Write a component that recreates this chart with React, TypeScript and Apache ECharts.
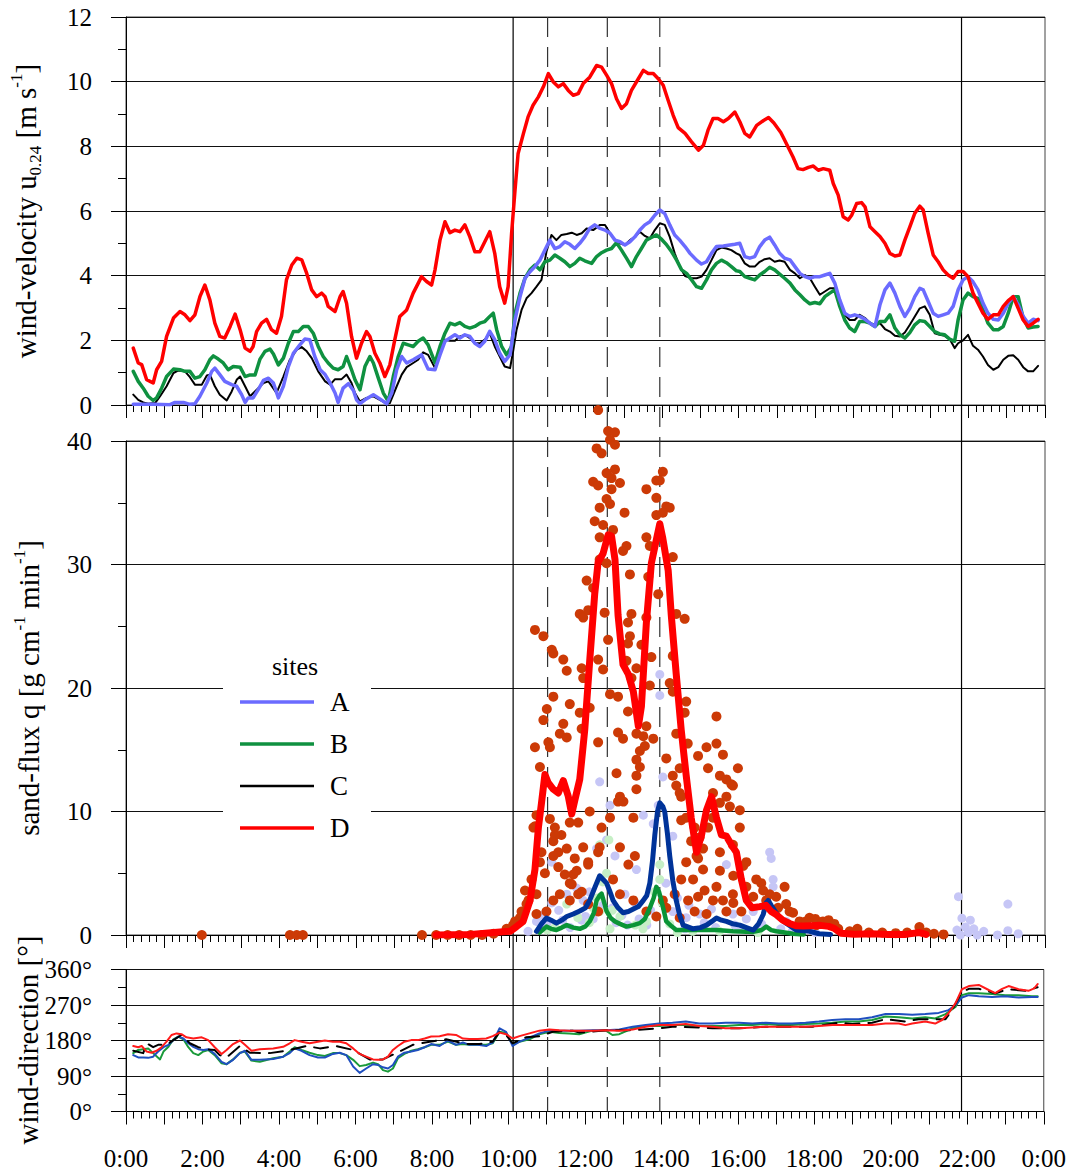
import React, { useEffect, useRef } from "react";
import * as echarts from "echarts";

// ---------- data: [hour, value] ----------
const hourTicks = [0, 2, 4, 6, 8, 10, 12, 14, 16, 18, 20, 22, 24];
const solidLines = [10.11, 21.82];
const dashedLines = [11.01, 12.57, 13.94];
const siteNames = ["A", "B", "C", "D"];

const velA: [number, number][] = [[0.19,0.02],[0.71,0.02],[1.15,0.01],[1.28,0.08],[1.5,0.08],[1.67,0.02],[1.8,0.04],[1.93,0.27],[2.11,0.68],[2.24,1.04],[2.32,1.14],[2.45,0.94],[2.58,0.73],[2.76,0.63],[2.89,0.58],[3.02,0.32],[3.11,0.08],[3.19,0.22],[3.32,0.22],[3.46,0.49],[3.59,0.76],[3.72,0.83],[3.85,0.68],[3.98,0.22],[4.11,0.58],[4.24,1.19],[4.37,1.6],[4.54,1.86],[4.67,2.04],[4.8,2.02],[4.93,1.5],[5.07,1.09],[5.2,0.94],[5.33,0.68],[5.46,0.37],[5.54,0.08],[5.67,0.52],[5.81,0.66],[5.94,0.45],[6.02,0.16],[6.11,0.04],[6.24,0.16],[6.46,0.32],[6.63,0.19],[6.81,0.04],[6.94,0.37],[7.07,1.09],[7.2,1.5],[7.33,1.3],[7.5,1.4],[7.72,1.55],[7.89,1.11],[8.07,1.09],[8.2,1.55],[8.33,1.97],[8.46,2.07],[8.59,2.17],[8.72,2.07],[8.85,2.17],[8.98,2.12],[9.11,1.91],[9.24,1.81],[9.37,1.97],[9.5,2.28],[9.63,2.02],[9.76,1.6],[9.89,1.35],[10.03,1.55],[10.16,2.63],[10.29,3.35],[10.42,3.92],[10.55,4.12],[10.68,4.28],[10.81,4.48],[10.94,4.79],[11.07,5.1],[11.2,4.84],[11.33,4.9],[11.46,5.05],[11.59,4.97],[11.72,4.84],[11.85,5.0],[11.98,5.2],[12.11,5.46],[12.24,5.57],[12.38,5.46],[12.51,5.41],[12.64,5.31],[12.77,5.1],[12.9,5.05],[13.03,4.95],[13.16,5.05],[13.29,5.2],[13.42,5.41],[13.55,5.57],[13.68,5.67],[13.81,5.87],[13.94,6.03],[14.07,5.92],[14.2,5.57],[14.33,5.26],[14.46,5.1],[14.6,4.9],[14.73,4.69],[14.9,4.48],[15.03,4.36],[15.16,4.43],[15.29,4.69],[15.42,4.9],[15.6,4.92],[15.77,4.95],[15.9,4.97],[16.03,5.0],[16.16,4.59],[16.29,4.54],[16.42,4.59],[16.55,4.9],[16.68,5.1],[16.81,5.19],[16.94,4.95],[17.07,4.69],[17.2,4.54],[17.34,4.49],[17.47,4.28],[17.6,4.07],[17.73,3.97],[17.86,3.92],[17.99,3.97],[18.12,3.97],[18.25,4.02],[18.38,4.07],[18.51,3.77],[18.64,3.25],[18.77,2.84],[18.9,2.74],[19.03,2.79],[19.16,2.74],[19.3,2.65],[19.43,2.53],[19.56,2.43],[19.69,3.1],[19.82,3.56],[19.95,3.77],[20.08,3.46],[20.21,3.05],[20.34,2.74],[20.47,2.99],[20.6,3.35],[20.73,3.61],[20.82,3.56],[20.95,3.2],[21.08,2.84],[21.21,2.74],[21.34,2.79],[21.47,2.84],[21.6,3.05],[21.73,3.56],[21.86,3.87],[21.99,3.97],[22.12,3.81],[22.25,3.56],[22.38,3.15],[22.51,2.84],[22.65,2.65],[22.78,2.63],[22.91,2.84],[23.04,3.15],[23.17,3.35],[23.3,3.1],[23.43,2.74],[23.56,2.53],[23.69,2.65],[23.82,2.61]];

const velB: [number, number][] = [[0.19,1.04],[0.32,0.73],[0.45,0.52],[0.58,0.27],[0.71,0.14],[0.8,0.22],[0.93,0.52],[1.06,0.88],[1.24,1.11],[1.41,1.09],[1.54,1.04],[1.67,1.04],[1.8,0.83],[1.93,0.88],[2.06,1.09],[2.19,1.4],[2.28,1.52],[2.41,1.42],[2.54,1.3],[2.67,1.09],[2.8,1.19],[2.98,1.17],[3.11,0.88],[3.24,0.93],[3.37,0.93],[3.5,1.42],[3.63,1.66],[3.76,1.73],[3.85,1.58],[3.98,1.24],[4.11,1.45],[4.24,1.91],[4.37,2.27],[4.5,2.27],[4.63,2.43],[4.76,2.43],[4.89,2.22],[5.02,1.81],[5.15,1.5],[5.28,1.3],[5.41,1.14],[5.54,1.09],[5.67,1.19],[5.76,1.5],[5.89,1.09],[5.98,0.78],[6.11,0.47],[6.24,1.19],[6.37,1.5],[6.46,1.3],[6.59,0.83],[6.72,0.37],[6.85,0.11],[6.98,0.88],[7.11,1.5],[7.24,1.91],[7.37,1.86],[7.5,1.81],[7.63,1.97],[7.76,2.07],[7.89,1.86],[8.07,1.3],[8.2,1.81],[8.33,2.22],[8.46,2.53],[8.59,2.48],[8.72,2.55],[8.85,2.43],[8.98,2.38],[9.11,2.43],[9.24,2.53],[9.37,2.58],[9.5,2.74],[9.59,2.84],[9.68,2.33],[9.81,1.81],[9.94,1.55],[10.07,1.81],[10.16,2.84],[10.29,3.46],[10.42,3.92],[10.55,4.18],[10.68,4.33],[10.81,4.18],[10.94,4.43],[11.07,4.48],[11.2,4.64],[11.33,4.54],[11.46,4.43],[11.59,4.28],[11.72,4.38],[11.85,4.54],[11.98,4.46],[12.16,4.38],[12.29,4.59],[12.42,4.71],[12.55,4.79],[12.68,4.84],[12.81,5.02],[12.94,4.79],[13.07,4.54],[13.2,4.28],[13.33,4.59],[13.46,4.84],[13.59,5.1],[13.72,5.18],[13.85,5.26],[13.99,5.12],[14.12,4.95],[14.25,4.74],[14.38,4.48],[14.51,4.18],[14.64,4.07],[14.77,3.87],[14.9,3.66],[15.03,3.61],[15.16,3.87],[15.29,4.18],[15.42,4.38],[15.55,4.48],[15.68,4.4],[15.81,4.28],[15.94,4.15],[16.03,4.13],[16.16,3.97],[16.29,3.92],[16.42,3.87],[16.55,4.02],[16.68,4.13],[16.81,4.26],[16.94,4.18],[17.07,4.05],[17.2,3.92],[17.34,3.77],[17.47,3.56],[17.6,3.41],[17.73,3.25],[17.86,3.13],[17.99,3.17],[18.12,3.13],[18.25,3.35],[18.38,3.46],[18.51,3.56],[18.64,3.05],[18.77,2.63],[18.9,2.38],[19.03,2.27],[19.16,2.58],[19.3,2.58],[19.43,2.53],[19.56,2.43],[19.69,2.58],[19.82,2.58],[19.95,2.79],[20.08,2.38],[20.21,2.17],[20.34,2.07],[20.47,2.24],[20.6,2.48],[20.73,2.61],[20.86,2.58],[20.99,2.43],[21.12,2.27],[21.25,2.2],[21.38,2.17],[21.51,2.04],[21.64,1.97],[21.73,2.63],[21.86,3.25],[21.99,3.46],[22.12,3.35],[22.25,3.3],[22.38,2.94],[22.51,2.53],[22.65,2.33],[22.78,2.33],[22.91,2.43],[23.04,2.84],[23.17,3.35],[23.3,3.35],[23.43,2.69],[23.56,2.38],[23.69,2.41],[23.82,2.43]];

const velC: [number, number][] = [[0.19,0.32],[0.32,0.16],[0.45,0.08],[0.58,0.04],[0.76,0.06],[0.89,0.27],[1.06,0.58],[1.24,0.99],[1.37,1.07],[1.54,1.04],[1.67,0.86],[1.8,0.63],[1.98,0.63],[2.11,0.91],[2.19,0.94],[2.32,0.58],[2.45,0.32],[2.63,0.14],[2.76,0.42],[2.89,0.78],[2.98,0.88],[3.11,0.58],[3.24,0.27],[3.59,0.68],[3.72,0.73],[3.93,0.37],[4.11,0.88],[4.28,1.4],[4.46,1.71],[4.59,1.79],[4.72,1.66],[4.85,1.45],[5.02,1.04],[5.2,0.73],[5.33,0.63],[5.46,0.8],[5.63,0.8],[5.76,0.94],[5.89,0.68],[5.98,0.37],[6.11,0.11],[6.28,0.22],[6.46,0.27],[6.63,0.16],[6.81,0.04],[6.89,0.06],[7.07,0.58],[7.2,0.94],[7.33,1.17],[7.5,1.3],[7.63,1.4],[7.76,1.63],[7.89,1.55],[8.07,1.14],[8.2,1.71],[8.33,2.02],[8.46,1.99],[8.59,1.99],[8.72,2.12],[8.85,2.17],[8.98,2.07],[9.11,1.91],[9.24,1.91],[9.37,2.02],[9.5,2.22],[9.63,1.81],[9.76,1.5],[9.89,1.19],[10.03,1.14],[10.11,1.66],[10.2,2.33],[10.33,2.94],[10.46,3.3],[10.59,3.46],[10.72,3.66],[10.85,3.87],[10.98,4.74],[11.11,5.26],[11.24,5.1],[11.37,5.26],[11.51,5.29],[11.64,5.33],[11.77,5.26],[11.9,5.31],[12.03,5.46],[12.2,5.41],[12.38,5.57],[12.51,5.57],[12.64,5.31],[12.77,5.1],[12.9,5.0],[13.03,4.95],[13.16,5.1],[13.29,5.2],[13.42,5.36],[13.55,5.23],[13.68,5.15],[13.81,5.41],[13.94,5.62],[14.07,5.57],[14.2,5.2],[14.33,4.69],[14.46,4.28],[14.6,3.99],[14.77,3.92],[14.9,3.92],[15.03,3.97],[15.16,4.18],[15.29,4.48],[15.42,4.79],[15.55,4.87],[15.68,4.84],[15.81,4.79],[15.94,4.69],[16.03,4.64],[16.16,4.38],[16.29,4.28],[16.42,4.28],[16.55,4.43],[16.68,4.51],[16.81,4.54],[16.94,4.43],[17.07,4.47],[17.2,4.43],[17.34,4.18],[17.47,4.07],[17.6,3.92],[17.73,4.02],[17.86,3.92],[17.99,3.66],[18.12,3.41],[18.25,3.51],[18.38,3.61],[18.51,3.61],[18.64,3.15],[18.77,2.79],[18.9,2.63],[19.03,2.63],[19.16,2.79],[19.3,2.69],[19.43,2.53],[19.56,2.48],[19.69,2.53],[19.82,2.35],[19.95,2.27],[20.08,2.14],[20.21,2.12],[20.34,2.24],[20.47,2.48],[20.6,2.74],[20.73,2.99],[20.86,3.05],[20.99,2.79],[21.12,2.22],[21.25,2.17],[21.38,2.14],[21.51,2.04],[21.64,1.76],[21.73,1.91],[21.86,2.0],[21.99,2.17],[22.12,1.83],[22.25,1.71],[22.38,1.5],[22.51,1.24],[22.65,1.09],[22.78,1.17],[22.91,1.4],[23.04,1.52],[23.17,1.54],[23.3,1.4],[23.43,1.17],[23.56,1.04],[23.69,1.04],[23.82,1.21]];

const velD: [number, number][] = [[0.19,1.76],[0.32,1.3],[0.41,1.25],[0.54,0.78],[0.63,0.73],[0.71,0.68],[0.8,1.09],[0.93,1.35],[1.06,2.12],[1.24,2.69],[1.41,2.89],[1.54,2.79],[1.67,2.61],[1.8,2.79],[1.93,3.35],[2.06,3.71],[2.19,3.25],[2.32,2.53],[2.45,2.12],[2.58,2.07],[2.72,2.43],[2.85,2.81],[2.98,2.33],[3.11,1.76],[3.24,1.66],[3.32,1.81],[3.41,2.27],[3.54,2.53],[3.67,2.65],[3.8,2.33],[3.93,2.22],[4.06,2.74],[4.19,3.87],[4.33,4.33],[4.46,4.54],[4.59,4.49],[4.72,4.07],[4.85,3.56],[4.98,3.35],[5.11,3.46],[5.2,3.35],[5.28,3.05],[5.46,2.89],[5.59,3.35],[5.67,3.51],[5.76,3.15],[5.89,2.12],[6.02,1.45],[6.15,1.91],[6.28,2.27],[6.37,2.12],[6.5,1.6],[6.63,1.3],[6.76,0.88],[6.89,1.24],[7.02,2.02],[7.15,2.74],[7.33,2.94],[7.5,3.46],[7.72,3.97],[7.85,3.82],[7.98,3.71],[8.07,4.18],[8.2,5.1],[8.33,5.67],[8.46,5.33],[8.59,5.41],[8.72,5.36],[8.85,5.57],[8.98,5.2],[9.11,4.74],[9.24,4.74],[9.37,5.05],[9.5,5.36],[9.63,4.69],[9.76,3.66],[9.89,3.15],[9.98,3.66],[10.07,5.31],[10.16,6.65],[10.24,7.78],[10.38,8.4],[10.5,8.91],[10.63,9.27],[10.77,9.53],[10.9,9.84],[11.03,10.25],[11.16,9.99],[11.29,9.84],[11.42,9.94],[11.55,9.73],[11.68,9.58],[11.81,9.63],[11.94,9.94],[12.11,10.14],[12.29,10.5],[12.42,10.45],[12.55,10.2],[12.68,9.94],[12.81,9.47],[12.94,9.17],[13.07,9.32],[13.2,9.73],[13.38,10.09],[13.51,10.35],[13.64,10.25],[13.77,10.25],[13.9,10.09],[14.03,9.89],[14.16,9.42],[14.29,8.96],[14.42,8.58],[14.6,8.4],[14.77,8.14],[14.95,7.88],[15.08,8.03],[15.2,8.5],[15.33,8.86],[15.46,8.86],[15.6,8.76],[15.73,8.86],[15.9,9.06],[16.03,8.76],[16.16,8.4],[16.29,8.29],[16.47,8.65],[16.65,8.8],[16.78,8.89],[16.92,8.72],[17.1,8.43],[17.16,8.29],[17.29,7.98],[17.42,7.67],[17.55,7.31],[17.68,7.28],[17.82,7.35],[17.95,7.39],[18.08,7.26],[18.21,7.31],[18.38,7.26],[18.47,6.85],[18.6,6.49],[18.73,5.82],[18.86,5.72],[18.95,5.87],[19.08,6.23],[19.21,6.26],[19.3,6.13],[19.43,5.51],[19.56,5.36],[19.69,5.21],[19.82,5.0],[19.95,4.69],[20.08,4.61],[20.21,4.64],[20.34,5.1],[20.47,5.51],[20.6,5.93],[20.73,6.15],[20.82,6.03],[20.95,5.31],[21.08,4.64],[21.21,4.43],[21.34,4.18],[21.47,4.02],[21.6,3.92],[21.73,4.13],[21.86,4.13],[21.99,3.97],[22.12,3.46],[22.25,3.15],[22.38,2.84],[22.51,2.65],[22.65,2.79],[22.78,2.79],[22.91,3.05],[23.04,3.23],[23.17,3.35],[23.3,2.99],[23.43,2.63],[23.56,2.43],[23.69,2.53],[23.82,2.65]];

// sand flux: running means (lines) and individual samples (dots)
const fluxLineD: [number, number][] = [[8.1,0],[9.0,0.05],[9.77,0.25],[10.03,0.3],[10.2,0.68],[10.37,1.1],[10.55,2.79],[10.68,5.3],[10.77,8.7],[10.85,10.67],[10.94,13.0],[11.02,12.36],[11.16,11.8],[11.29,11.5],[11.42,12.5],[11.55,11.23],[11.64,9.8],[11.72,10.9],[11.85,12.6],[11.98,16.6],[12.11,22.2],[12.24,27.6],[12.33,30.2],[12.46,30.9],[12.59,32.4],[12.68,32.3],[12.77,30.4],[12.85,25.9],[12.98,21.9],[13.12,21.1],[13.25,19.7],[13.38,16.9],[13.46,18.5],[13.59,25.3],[13.72,30.1],[13.85,32.0],[13.94,33.3],[14.02,32.1],[14.16,29.5],[14.24,25.9],[14.37,21.1],[14.5,16.6],[14.63,12.9],[14.76,9.5],[14.9,6.7],[15.03,8.1],[15.16,10.1],[15.29,11.2],[15.42,9.5],[15.55,8.1],[15.68,8.0],[15.81,7.3],[15.94,6.7],[16.07,4.5],[16.2,2.8],[16.35,2.2],[16.55,2.3],[16.71,2.4],[16.85,1.9],[16.98,1.65],[17.15,1.2],[17.33,0.93],[17.5,0.75],[17.69,0.72],[17.9,0.75],[18.13,0.78],[18.35,0.7],[18.49,0.55],[18.67,0.14],[19.02,0.06],[19.47,0.1],[19.91,0.05],[20.36,0.05],[20.72,0.2],[20.89,0.05]];

const fluxLineA: [number, number][] = [[10.72,0.3],[10.85,0.9],[10.98,1.38],[11.1,1.2],[11.24,0.96],[11.38,1.2],[11.51,1.5],[11.68,1.7],[11.85,1.94],[12.0,2.2],[12.11,2.8],[12.25,3.9],[12.37,4.8],[12.46,4.5],[12.55,4.2],[12.64,3.5],[12.72,2.8],[12.85,2.2],[12.98,1.8],[13.12,1.9],[13.25,2.1],[13.38,2.3],[13.51,2.8],[13.6,3.2],[13.68,4.2],[13.75,6.0],[13.81,8.1],[13.88,10.0],[13.94,10.7],[14.02,10.4],[14.07,9.96],[14.14,8.2],[14.2,6.4],[14.28,4.4],[14.37,2.8],[14.46,1.6],[14.55,0.8],[14.81,0.5],[15.0,0.6],[15.16,0.8],[15.3,1.1],[15.42,1.38],[15.55,1.2],[15.68,1.1],[15.85,0.9],[16.03,0.8],[16.2,0.6],[16.38,0.4],[16.52,0.9],[16.64,1.66],[16.72,2.6],[16.77,2.8],[16.85,2.4],[16.98,1.8],[17.1,1.3],[17.24,0.96],[17.5,0.4],[17.85,0.3],[18.1,0.1],[18.4,0.05]];

const fluxLineB: [number, number][] = [[10.8,0.2],[10.98,0.68],[11.1,0.5],[11.24,0.4],[11.38,0.6],[11.51,0.8],[11.68,0.6],[11.85,0.5],[12.0,0.7],[12.11,1.1],[12.22,1.8],[12.29,2.8],[12.37,3.2],[12.42,3.35],[12.49,2.6],[12.55,1.94],[12.65,1.4],[12.77,1.1],[12.9,0.9],[13.07,0.68],[13.25,0.8],[13.42,0.96],[13.55,1.3],[13.68,2.2],[13.78,3.0],[13.85,3.9],[13.92,3.5],[13.98,2.8],[14.05,1.9],[14.11,1.1],[14.25,0.7],[14.37,0.4],[14.81,0.4],[15.42,0.4],[15.85,0.3],[16.38,0.25],[16.6,0.4],[16.72,0.68],[16.85,0.4],[16.98,0.3],[17.42,0.1],[17.7,0.05]];

const fluxDotsD: [number, number][] = [[1.98,0],[4.28,0],[4.46,0],[4.62,0],[7.73,0],[8.1,0],[8.4,0],[8.7,0],[9.0,0],[9.3,0],[9.6,0.1],[9.94,0.5],[10.16,1.1],[10.33,1.9],[10.42,3.6],[10.51,2.8],[10.72,1.7],[12.33,42.5],[12.59,40.8],[12.77,40.7],[12.64,40.1],[12.77,39.7],[12.29,39.4],[12.42,39.0],[12.77,37.7],[12.55,37.4],[14.02,37.5],[12.68,37.0],[12.2,36.7],[12.33,36.4],[12.9,36.6],[13.59,36.1],[13.85,36.8],[13.94,36.8],[12.68,36.1],[13.85,35.4],[12.55,35.3],[12.64,34.9],[12.37,34.6],[13.02,34.2],[14.11,34.7],[14.2,34.6],[13.85,34.0],[14.02,34.2],[12.24,33.5],[12.46,33.2],[12.72,32.8],[12.37,32.2],[13.59,32.2],[13.07,31.5],[12.98,31.1],[13.68,31.5],[14.28,30.6],[12.37,30.4],[12.55,30.1],[13.16,29.2],[12.03,28.7],[13.64,29.0],[13.9,27.6],[12.2,28.1],[11.85,26.0],[11.94,25.7],[12.07,26.3],[12.5,26.1],[13.2,26.0],[13.11,25.3],[13.59,25.7],[14.37,26.0],[14.59,25.6],[10.68,24.7],[10.9,24.2],[11.12,23.1],[11.16,22.8],[11.42,22.3],[11.9,21.6],[11.51,21.4],[11.94,20.8],[12.33,22.3],[12.46,21.5],[12.59,23.9],[13.16,24.2],[13.11,23.6],[13.46,23.5],[13.72,22.5],[14.28,22.6],[13.07,22.2],[13.33,21.6],[13.2,20.8],[13.68,20.2],[14.2,20.4],[14.28,19.7],[12.64,19.5],[12.85,19.3],[11.16,19.3],[11.59,18.7],[10.99,18.3],[10.9,17.4],[15.42,17.7],[14.63,18.9],[14.59,18.0],[13.11,18.1],[11.85,18.0],[12.11,18.4],[11.42,17.1],[11.33,16.3],[11.51,16.0],[11.9,16.7],[11.03,15.6],[11.07,15.2],[10.68,15.2],[12.33,15.6],[12.85,16.4],[12.98,15.9],[13.33,16.3],[13.51,16.1],[13.55,15.3],[14.37,16.3],[14.67,15.5],[14.94,14.5],[15.16,15.2],[15.42,15.5],[15.59,14.6],[15.98,13.5],[15.2,13.5],[15.51,12.9],[15.68,12.6],[15.81,12.2],[15.33,11.5],[15.77,10.4],[16.03,10.1],[14.46,13.5],[14.37,12.1],[14.5,11.2],[14.5,9.3],[14.85,8.7],[14.98,7.9],[12.81,13.1],[12.85,10.8],[12.99,10.8],[13.33,11.8],[13.42,13.6],[13.25,9.5],[13.29,6.4],[10.81,13.6],[10.68,8.8],[11.2,8.7],[11.37,8.1],[11.16,7.6],[11.29,6.7],[11.51,7.0],[11.59,9.1],[11.81,9.1],[12.11,10.0],[12.42,8.7],[12.07,5.7],[11.72,6.2],[11.68,4.9],[11.59,4.2],[10.81,5.9],[10.94,5.0],[12.37,7.1],[12.9,7.1],[13.12,5.7],[14.9,6.4],[15.07,5.3],[14.81,4.5],[14.68,2.8],[14.85,1.9],[15.51,5.2],[15.86,4.8],[16.12,5.6],[16.2,3.9],[16.38,3.1],[16.59,4.2],[16.81,3.3],[17.2,3.9],[17.03,2.2],[17.33,1.9],[17.59,1.1],[17.85,1.4],[18.03,0.8],[15.11,3.6],[15.33,2.8],[15.16,1.7],[14.94,3.1],[14.46,1.4],[14.11,2.2],[13.85,1.5],[11.9,3.5],[12.07,2.5],[12.33,1.9],[11.33,3.3],[15.86,2.6],[15.68,1.9],[18.0,1.3],[18.2,1.1],[18.35,1.2],[18.5,0.9],[18.6,0.5],[18.9,0.3],[19.1,0.5],[19.4,0.2],[19.75,0.2],[20.1,0.15],[20.4,0.2],[20.72,0.65],[20.9,0.2],[21.1,0.1],[21.35,0.05],[10.64,8.7],[10.72,9.7],[11.07,9.4],[11.2,8.1],[10.85,6.7],[11.16,6.4],[11.29,5.5],[11.46,4.9],[11.64,4.1],[11.81,3.3],[11.77,5.2],[12.07,5.9],[11.94,7.1],[12.33,6.7],[12.64,9.5],[12.9,11.2],[13.33,12.9],[13.33,14.2],[13.42,14.9],[13.59,16.9],[13.77,15.9],[14.11,14.3],[14.28,12.9],[14.46,11.5],[14.63,9.5],[14.76,7.6],[14.94,6.2],[15.07,7.0],[15.2,8.7],[15.33,9.5],[15.51,10.7],[15.68,11.2],[15.85,12.1],[16.03,8.7],[15.85,7.3],[15.51,6.7],[16.2,5.9],[16.46,4.5],[16.64,3.6],[16.72,2.8],[16.98,3.1],[17.24,2.5],[17.42,1.8],[17.76,1.1],[15.42,3.9],[15.59,2.8],[15.85,3.3],[16.07,1.9],[14.63,5.9],[14.5,4.5],[14.33,3.3],[14.02,2.8],[13.59,1.9],[13.25,2.8],[12.9,3.3],[12.72,4.5],[11.59,2.8],[11.16,2.8],[10.98,1.9],[10.59,4.5],[10.46,2.5],[10.29,1.4],[10.11,0.8],[10.72,3.3]];

const fluxDotsA: [number, number][] = [[13.94,21.1],[13.94,19.4],[14.02,12.8],[12.37,12.4],[13.9,10.5],[12.64,10.5],[13.51,9.7],[13.77,9.0],[14.28,8.0],[12.55,7.7],[12.29,7.0],[12.77,6.4],[16.81,6.7],[16.85,6.2],[11.12,5.9],[15.68,5.7],[13.33,5.3],[16.9,4.5],[16.9,3.9],[11.77,3.8],[11.51,3.3],[13.03,3.3],[13.29,2.6],[11.12,2.6],[11.94,2.8],[15.29,2.1],[16.38,1.9],[10.72,1.1],[14.28,1.9],[14.63,1.4],[14.98,1.7],[15.85,1.7],[17.24,1.1],[17.67,0.5],[21.74,3.1],[21.83,1.36],[22.05,1.2],[21.92,0.64],[22.14,0.5],[22.23,0],[23.03,2.5],[23.03,0.35],[22.76,0],[21.79,0],[12.0,1.5],[12.8,1.0],[13.6,0.8],[14.6,0.5],[16.0,0.6],[16.5,0.4],[11.4,1.2],[10.9,0.8],[10.5,0.3],[10.8,1.6],[11.0,1.0],[11.3,2.0],[11.6,0.6],[11.9,1.2],[12.1,3.5],[12.2,1.3],[12.45,2.4],[12.7,2.2],[12.95,1.6],[13.1,0.8],[13.4,1.3],[13.7,2.0],[13.85,3.5],[14.1,4.2],[14.4,3.0],[14.7,2.4],[15.1,1.0],[15.4,0.6],[15.9,0.8],[16.2,1.3],[16.6,0.9],[16.95,2.0],[17.1,0.5],[17.4,0.3],[18.0,0.2],[22.0,0.2],[22.4,0.3],[23.3,0.1],[21.7,0.4]];

const fluxDotsB: [number, number][] = [[12.37,7.3],[12.55,5.0],[13.94,5.7],[12.61,7.7],[11.51,2.5],[12.37,1.9],[12.64,0.5],[13.59,1.1],[13.94,4.5],[11.8,1.4],[12.2,2.2],[12.9,1.5],[13.3,0.8],[14.2,0.9],[14.8,0.3],[15.5,0.3],[16.5,0.2],[11.2,0.6],[12.45,4.3],[12.3,3.0],[13.8,3.5],[14.0,2.6],[12.7,2.0],[11.0,0.4],[13.5,0.5],[14.4,0.2],[12.1,1.0]];

// wind direction (degrees)
const dirA: [number, number][] = [[0.19,143],[0.32,137],[0.45,137],[0.58,136],[0.71,139],[0.84,152],[0.98,163],[1.11,169],[1.24,181],[1.37,190],[1.5,185],[1.63,173],[1.76,164],[1.89,158],[2.02,156],[2.15,158],[2.32,146],[2.5,126],[2.63,120],[2.8,131],[2.98,148],[3.11,154],[3.28,131],[3.5,131],[3.85,133],[4.11,139],[4.28,148],[4.41,160],[4.59,154],[4.8,143],[5.02,137],[5.2,137],[5.41,146],[5.59,149],[5.76,143],[5.94,114],[6.11,98],[6.28,109],[6.46,120],[6.59,118],[6.72,112],[6.85,109],[6.98,118],[7.11,139],[7.28,149],[7.46,152],[7.63,156],[7.81,163],[7.98,171],[8.2,166],[8.42,180],[8.63,169],[8.81,175],[8.98,169],[9.2,169],[9.42,166],[9.59,175],[9.77,211],[9.94,202],[10.11,166],[10.29,177],[10.55,187],[10.81,198],[11.07,205],[11.33,205],[11.59,205],[11.85,205],[12.2,206],[12.55,206],[12.9,208],[13.25,215],[13.59,219],[13.94,223],[14.29,225],[14.64,228],[14.99,223],[15.34,223],[15.68,225],[16.03,225],[16.38,223],[16.73,225],[17.07,223],[17.42,223],[17.77,225],[18.12,228],[18.47,232],[18.81,234],[19.16,234],[19.51,239],[19.86,247],[20.21,247],[20.56,245],[20.9,247],[21.25,250],[21.51,257],[21.69,270],[21.86,289],[22.04,295],[22.3,292],[22.65,290],[22.99,292],[23.34,289],[23.69,290],[23.84,290]];

const dirB: [number, number][] = [[0.19,148],[0.32,156],[0.45,158],[0.58,160],[0.71,148],[0.89,132],[0.98,152],[1.11,164],[1.24,183],[1.37,190],[1.5,183],[1.63,163],[1.76,148],[1.89,143],[2.02,152],[2.15,156],[2.32,143],[2.5,122],[2.63,120],[2.8,132],[2.98,149],[3.11,152],[3.28,129],[3.5,126],[3.85,135],[4.11,139],[4.28,152],[4.41,163],[4.59,156],[4.8,149],[5.02,143],[5.2,141],[5.41,148],[5.59,148],[5.76,143],[5.94,131],[6.11,115],[6.28,118],[6.46,124],[6.59,120],[6.72,105],[6.85,101],[6.98,109],[7.11,135],[7.28,146],[7.46,154],[7.63,158],[7.81,163],[7.98,169],[8.2,169],[8.42,177],[8.63,169],[8.81,171],[8.98,169],[9.2,169],[9.42,169],[9.59,173],[9.77,202],[9.94,199],[10.11,171],[10.29,177],[10.55,183],[10.81,196],[11.07,202],[11.33,199],[11.59,198],[11.85,196],[12.2,205],[12.55,205],[12.72,194],[12.9,196],[13.25,211],[13.59,217],[13.94,217],[14.29,219],[14.64,219],[14.99,217],[15.34,217],[15.68,217],[16.03,219],[16.38,219],[16.73,222],[17.07,219],[17.42,219],[17.77,222],[18.12,223],[18.47,225],[18.81,228],[19.16,228],[19.51,232],[19.86,241],[20.21,239],[20.56,236],[20.9,239],[21.16,236],[21.43,247],[21.69,265],[21.86,295],[22.04,300],[22.3,300],[22.65,298],[22.99,295],[23.34,295],[23.69,292],[23.84,292]];

const dirC: [number, number][] = [[0.19,154],[0.45,148],[0.54,173],[0.71,163],[0.84,169],[1.06,169],[1.24,181],[1.45,194],[1.67,173],[1.89,163],[2.11,158],[2.32,156],[2.45,143],[2.63,137],[2.98,166],[3.24,149],[3.76,148],[4.19,154],[4.72,166],[5.07,160],[5.5,166],[5.94,156],[6.37,132],[6.72,132],[7.15,152],[7.5,169],[7.94,177],[8.37,183],[8.89,171],[9.24,171],[9.59,177],[9.77,202],[9.94,194],[10.11,173],[10.46,188],[10.81,191],[11.16,202],[11.68,205],[11.85,200],[12.55,206],[13.25,206],[13.94,211],[14.29,215],[14.99,213],[15.34,211],[16.03,211],[16.73,215],[17.25,215],[17.94,215],[18.64,225],[18.99,222],[19.51,225],[19.86,234],[20.38,228],[20.73,234],[21.43,234],[21.6,257],[21.86,303],[22.04,311],[22.3,311],[22.73,300],[23.08,310],[23.52,306],[23.84,315]];

const dirD: [number, number][] = [[0.19,166],[0.32,163],[0.41,166],[0.54,152],[0.67,149],[0.8,154],[0.93,163],[1.06,177],[1.19,194],[1.32,198],[1.45,196],[1.58,188],[1.76,185],[1.98,188],[2.15,181],[2.32,163],[2.5,146],[2.63,156],[2.8,171],[2.98,180],[3.11,169],[3.28,154],[3.5,158],[3.85,160],[4.11,164],[4.28,173],[4.41,181],[4.59,177],[4.8,173],[5.02,177],[5.2,180],[5.41,177],[5.59,177],[5.76,173],[5.94,160],[6.11,146],[6.28,139],[6.46,132],[6.59,131],[6.72,132],[6.85,139],[6.98,156],[7.11,166],[7.28,177],[7.46,181],[7.63,181],[7.81,185],[7.98,190],[8.2,191],[8.42,196],[8.63,194],[8.81,185],[8.98,184],[9.2,184],[9.42,185],[9.59,191],[9.77,200],[9.94,196],[10.11,185],[10.29,191],[10.55,198],[10.81,205],[11.07,208],[11.33,206],[11.59,205],[11.85,205],[12.2,205],[12.55,206],[12.9,205],[13.25,208],[13.59,215],[13.94,219],[14.29,219],[14.64,222],[14.99,217],[15.34,215],[15.68,211],[16.03,211],[16.38,213],[16.73,215],[17.07,215],[17.42,215],[17.77,215],[18.12,217],[18.47,219],[18.81,219],[19.16,219],[19.51,219],[19.86,223],[20.21,223],[20.38,219],[20.56,223],[20.9,228],[21.16,223],[21.34,232],[21.51,249],[21.69,274],[21.86,310],[22.04,318],[22.3,321],[22.56,308],[22.73,300],[22.91,311],[23.08,318],[23.34,310],[23.6,306],[23.75,312],[23.84,323]];

// ---------- styling ----------
const FONT = "'Liberation Serif', 'Times New Roman', serif";
const colA = "#6b6bff";
const colB = "#0f9140";
const colC = "#000000";
const colD = "#ff0000";

const GRID_LEFT = 126;
const GRID_W = 919;
const grids = [
  { top: 17, height: 388 },
  { top: 441, height: 494 },
  { top: 969.5, height: 142 },
];

function xAxis(i: number) {
  return {
    type: "value",
    gridIndex: i,
    min: 0,
    max: 24,
    interval: 1,
    axisLine: { show: true, onZero: false, lineStyle: { color: "#000", width: 1 } },
    axisTick: { show: true, inside: false, length: 13, lineStyle: { color: "#000", width: 1 } },
    minorTick: { show: true, splitNumber: 5, length: 7, lineStyle: { color: "#000", width: 1 } },
    splitLine: { show: false },
    axisLabel:
      i === 2
        ? {
            show: true,
            margin: 34,
            fontFamily: FONT,
            fontSize: 25,
            color: "#000",
            showMinLabel: true,
            showMaxLabel: true,
            formatter: (v: number) => (hourTicks.includes(v) ? `${v % 24}:00` : ""),
          }
        : { show: false },
  };
}

function yAxis(i: number, max: number, interval: number, fmt?: (v: number) => string) {
  return {
    type: "value",
    gridIndex: i,
    min: 0,
    max,
    interval,
    axisLine: { show: true, lineStyle: { color: "#000", width: 1 } },
    axisTick: { show: true, inside: false, length: 15, lineStyle: { color: "#000", width: 1 } },
    minorTick: { show: true, splitNumber: 2, length: 8, lineStyle: { color: "#000", width: 1 } },
    splitLine: { show: true, lineStyle: { color: "#111", width: 1 } },
    axisLabel: {
      show: true,
      margin: 34,
      fontFamily: FONT,
      fontSize: 25,
      color: "#000",
      formatter: fmt || ((v: number) => String(v)),
    },
  };
}

function line(i: number, data: [number, number][], color: string, width: number, z = 2, dash?: number[]) {
  return {
    type: "line",
    xAxisIndex: i,
    yAxisIndex: i,
    data,
    showSymbol: false,
    symbol: "none",
    z,
    lineStyle: { color, width, type: dash || "solid", join: "round", cap: "round" },
    emphasis: { disabled: true },
  };
}

function dots(data: [number, number][], color: string, size: number, z = 2) {
  return {
    type: "scatter",
    xAxisIndex: 1,
    yAxisIndex: 1,
    data,
    symbolSize: size,
    clip: false,
    z,
    itemStyle: { color, opacity: 1 },
    emphasis: { disabled: true },
  };
}

const titleRich = {
  a: { fontFamily: FONT, fontSize: 29, lineHeight: 36, color: "#000", verticalAlign: "middle" },
  sub: { fontFamily: FONT, fontSize: 17, lineHeight: 17, color: "#000", verticalAlign: "bottom" },
  sup: { fontFamily: FONT, fontSize: 17, lineHeight: 17, color: "#000", verticalAlign: "top" },
};

function title(text: string, x: number, y: number) {
  return {
    type: "text",
    x,
    y,
    rotation: Math.PI / 2,
    z: 20,
    style: { text, rich: titleRich, align: "center", verticalAlign: "middle" },
  };
}

export default function App() {
  const ref = useRef<HTMLDivElement>(null);

  useEffect(() => {
    document.body.style.margin = "0";
    const chart = echarts.init(ref.current as HTMLDivElement, null, { renderer: "svg" });

    const legendColors = [colA, colB, colC, colD];
    const legendWidths = [3.5, 3.5, 2.5, 3.5];
    const legendY = [702, 744, 786, 828];

    const legendEls: any[] = [
      { type: "rect", z: 30, shape: { x: 223, y: 640, width: 148, height: 212 }, style: { fill: "#fff" } },
      {
        type: "text", z: 31, x: 295, y: 666,
        style: { text: "sites", fontFamily: FONT, fontSize: 26, fill: "#000", align: "center", verticalAlign: "middle" },
      },
    ];
    siteNames.forEach((n, k) => {
      legendEls.push({
        type: "line", z: 31,
        shape: { x1: 240, y1: legendY[k], x2: 314, y2: legendY[k] },
        style: { stroke: legendColors[k], lineWidth: legendWidths[k] },
      });
      legendEls.push({
        type: "text", z: 31, x: 330, y: legendY[k],
        style: { text: n, fontFamily: FONT, fontSize: 27, fill: "#000", align: "left", verticalAlign: "middle" },
      });
    });

    const option: any = {
      animation: false,
      backgroundColor: "#fff",
      grid: grids.map((g) => ({
        left: GRID_LEFT,
        top: g.top,
        width: GRID_W,
        height: g.height,
        show: true,
        borderColor: "#444",
        borderWidth: 1,
        backgroundColor: "transparent",
      })),
      xAxis: [xAxis(0), xAxis(1), xAxis(2)],
      yAxis: [
        yAxis(0, 12, 2),
        yAxis(1, 40, 10),
        yAxis(2, 360, 90, (v: number) => `${v}°`),
      ],
      series: [
        line(0, velC, colC, 2),
        line(0, velB, colB, 3.5),
        line(0, velA, colA, 3.5),
        line(0, velD, colD, 3.5),
        dots(fluxDotsA, "#c6c6f6", 9, 2),
        dots(fluxDotsB, "#c6efc6", 9, 2),
        dots(fluxDotsD, "#cc3a06", 10, 3),
        line(1, fluxLineB, "#0a9436", 4.5, 4),
        line(1, fluxLineA, "#003399", 5, 4),
        line(1, fluxLineD, colD, 7, 5),
        line(2, dirB, "#1a9a3a", 2),
        line(2, dirA, "#1f4fbf", 2),
        line(2, dirC, "#000", 2, 2, [14, 9]),
        line(2, dirD, "#ff1a1a", 2),
      ],
      graphic: [
        title("{a|wind-velocity u}{sub|0.24}{a| [m s}{sup|-1}{a|]}", 26, 211),
        title("{a|sand-flux q [g cm}{sup|-1}{a| min}{sup|-1}{a|]}", 29, 688),
        title("{a|wind-direction [°]}", 28, 1040),
        ...legendEls,
      ],
    };
    chart.setOption(option);

    // vertical reference lines spanning all three panels, placed via the axes
    const yTop = chart.convertToPixel({ yAxisIndex: 0 }, 12) as number;
    const yBot = chart.convertToPixel({ yAxisIndex: 2 }, 0) as number;
    const refEls: any[] = [];
    solidLines.forEach((t, k) => {
      const x = chart.convertToPixel({ xAxisIndex: 0 }, t) as number;
      refEls.push({
        type: "line", id: "solid" + k, z: 1,
        shape: { x1: x, y1: yTop, x2: x, y2: yBot },
        style: { stroke: "#000", lineWidth: 1.2 },
      });
    });
    dashedLines.forEach((t, k) => {
      const x = chart.convertToPixel({ xAxisIndex: 0 }, t) as number;
      refEls.push({
        type: "line", id: "dash" + k, z: 1,
        shape: { x1: x, y1: yTop, x2: x, y2: yBot },
        style: { stroke: "#333", lineWidth: 1.2, lineDash: [20, 10] },
      });
    });
    chart.setOption({ graphic: [...option.graphic, ...refEls] }, { replaceMerge: ["graphic"] });

    return () => chart.dispose();
  }, []);

  return <div ref={ref} style={{ width: 1069, height: 1171, background: "#fff" }} />;
}
